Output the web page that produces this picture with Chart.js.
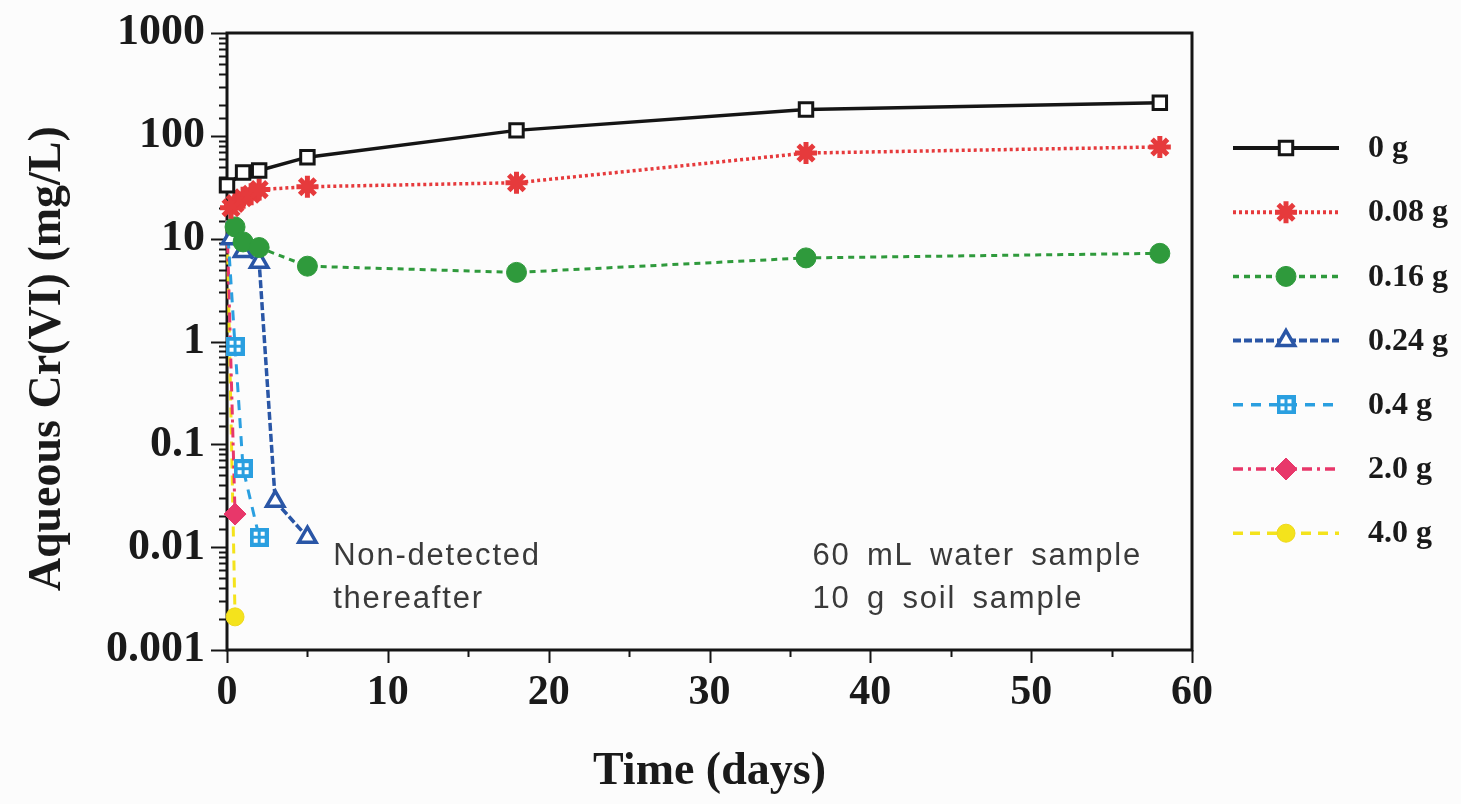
<!DOCTYPE html>
<html>
<head>
<meta charset="utf-8">
<script src="https://cdn.jsdelivr.net/npm/chart.js@4.4.1/dist/chart.umd.min.js"></script>
<style>
  html, body { margin: 0; padding: 0; background: #fcfcfc; }
  canvas { display: block; }
</style>
</head>
<body>
<canvas id="chart" width="1461" height="804"></canvas>
<script>
// values (days, mg/L)
const days0 = [0, 1, 2, 5, 18, 36, 58];
const cr0 = [33, 44, 46, 62, 113, 180, 210];

const days008 = [0.25, 0.5, 1, 1.5, 2, 5, 18, 36, 58];
const cr008 = [20, 22, 25, 27, 30, 32, 35, 68, 78];

const days016 = [0.5, 1, 2, 5, 18, 36, 58];
const cr016 = [13, 9.3, 8.2, 5.4, 4.7, 6.5, 7.2];

const days024 = [0.25, 1, 2, 3, 5];
const cr024 = [10, 7.5, 5.9, 0.028, 0.0125];

const days04 = [0, 0.5, 1, 2];
const cr04 = [15, 0.9, 0.058, 0.0125];

const days20 = [0, 0.5];
const cr20 = [15, 0.021];

const days40 = [0, 0.5];
const cr40 = [15, 0.0021];

const seriesLabels = ['0 g', '0.08 g', '0.16 g', '0.24 g', '0.4 g', '2.0 g', '4.0 g'];
const yTickLabels = ['0.001', '0.01', '0.1', '1', '10', '100', '1000'];
const xTickLabels = ['0', '10', '20', '30', '40', '50', '60'];
const noteLeft = ['Non-detected', 'thereafter'];
const noteRight = ['60 mL water sample', '10 g soil sample'];

const SERIF = '"Liberation Serif", "Times New Roman", serif';
const SANS = '"Liberation Sans", Arial, sans-serif';

function toPoints(xs, ys) {
  return xs.map((x, i) => ({ x, y: ys[i] }));
}

// light blue "grid square" marker
function gridSquare(color, size) {
  const c = document.createElement('canvas');
  c.width = size; c.height = size;
  const g = c.getContext('2d');
  g.fillStyle = color;
  g.fillRect(0, 0, size, size);
  g.fillStyle = '#ffffff';
  const s = Math.round(size * 0.22);
  const a = Math.round(size * 0.2), b = Math.round(size * 0.58);
  g.fillRect(a, a, s, s); g.fillRect(b, a, s, s);
  g.fillRect(a, b, s, s); g.fillRect(b, b, s, s);
  return c;
}
const gridMarker = gridSquare('#2a9fe0', 19);

const hideFirst = (r) => (ctx) => (ctx.dataIndex === 0 ? 0 : r);

const datasets = [
  { label: seriesLabels[0], data: toPoints(days0, cr0), borderColor: '#151515', backgroundColor: '#ffffff',
    borderWidth: 3.5, pointStyle: 'rect', pointRadius: 9.5, pointBorderWidth: 3, pointBorderColor: '#151515', borderDash: [] },
  { label: seriesLabels[1], data: toPoints(days008, cr008), borderColor: '#e63a3c', backgroundColor: '#e63a3c',
    borderWidth: 3.5, pointStyle: 'star', pointRadius: 11, pointBorderWidth: 5, pointBorderColor: '#e63a3c', borderDash: [3, 3] },
  { label: seriesLabels[2], data: toPoints(days016, cr016), borderColor: '#2f9a3c', backgroundColor: '#2f9a3c',
    borderWidth: 3, pointStyle: 'circle', pointRadius: 10, pointBorderWidth: 1, pointBorderColor: '#2f9a3c', borderDash: [6, 5] },
  { label: seriesLabels[3], data: toPoints(days024, cr024), borderColor: '#2a56a6', backgroundColor: '#ffffff',
    borderWidth: 3.5, pointStyle: 'triangle', pointRadius: 10, pointBorderWidth: 3.5, pointBorderColor: '#2a56a6', borderDash: [8, 3] },
  { label: seriesLabels[4], data: toPoints(days04, cr04), borderColor: '#2a9fe0', backgroundColor: '#2a9fe0',
    borderWidth: 3, pointStyle: gridMarker, pointRadius: hideFirst(9), pointBorderWidth: 0, borderDash: [10, 8] },
  { label: seriesLabels[5], data: toPoints(days20, cr20), borderColor: '#e8376a', backgroundColor: '#e8376a',
    borderWidth: 3, pointStyle: 'rectRot', pointRadius: hideFirst(11), pointBorderWidth: 1, pointBorderColor: '#e8376a', borderDash: [10, 5, 3, 5] },
  { label: seriesLabels[6], data: toPoints(days40, cr40), borderColor: '#f4e31c', backgroundColor: '#f4e31c',
    borderWidth: 3, pointStyle: 'circle', pointRadius: hideFirst(9), pointBorderWidth: 1, pointBorderColor: '#efd81a', borderDash: [10, 7] },
];
datasets.forEach((d) => { d.clip = false; d.tension = 0; d.fill = false; d.pointHoverRadius = d.pointRadius; });

function isDecade(v) {
  const e = Math.log10(v);
  return Math.abs(e - Math.round(e)) < 1e-6;
}

const framePlugin = {
  id: 'frame',
  beforeDatasetsDraw(chart) {
    const { ctx, chartArea: a, scales } = chart;
    ctx.save();
    ctx.strokeStyle = '#151515';
    ctx.lineWidth = 3;
    ctx.strokeRect(a.left, a.top, a.right - a.left, a.bottom - a.top);
    ctx.lineWidth = 2;
    ctx.beginPath();
    scales.y.ticks.forEach((t) => {
      const y = Math.round(scales.y.getPixelForValue(t.value)) + 0.5;
      const len = isDecade(t.value) ? 16 : 8;
      ctx.moveTo(a.left - len, y);
      ctx.lineTo(a.left, y);
    });
    scales.x.ticks.forEach((t) => {
      const x = Math.round(scales.x.getPixelForValue(t.value)) + 0.5;
      const len = t.value % 10 === 0 ? 13 : 7;
      ctx.moveTo(x, a.bottom);
      ctx.lineTo(x, a.bottom + len);
    });
    ctx.stroke();
    ctx.restore();
  },
  afterDraw(chart) {
    const { ctx, scales } = chart;
    ctx.save();
    // notes
    ctx.fillStyle = '#3a3a3a';
    ctx.font = '31px ' + SANS;
    ctx.textBaseline = 'middle';
    ctx.letterSpacing = '1.8px';
    const lineVals = [0.0082, 0.0031];
    noteLeft.forEach((s, i) => {
      ctx.fillText(s, scales.x.getPixelForValue(6.6), scales.y.getPixelForValue(lineVals[i]));
    });
    ctx.wordSpacing = '6px';
    noteRight.forEach((s, i) => {
      ctx.fillText(s, scales.x.getPixelForValue(36.4), scales.y.getPixelForValue(lineVals[i]));
    });
    ctx.letterSpacing = '0px';
    ctx.wordSpacing = '0px';

    // legend
    const x1 = 1233, x2 = 1339, xm = (x1 + x2) / 2, top = 148, gap = 64.2;
    chart.data.datasets.forEach((d, i) => {
      const y = top + i * gap;
      ctx.save();
      ctx.strokeStyle = d.borderColor;
      ctx.lineWidth = d.borderWidth + 0.5;
      ctx.setLineDash(d.borderDash || []);
      ctx.beginPath();
      ctx.moveTo(x1, y);
      ctx.lineTo(x2, y);
      ctx.stroke();
      ctx.setLineDash([]);
      const r = typeof d.pointRadius === 'function' ? d.pointRadius({ dataIndex: 1 }) : d.pointRadius;
      ctx.fillStyle = d.backgroundColor;
      ctx.strokeStyle = d.pointBorderColor || d.borderColor;
      ctx.lineWidth = d.pointBorderWidth;
      Chart.helpers.drawPoint(ctx, { pointStyle: d.pointStyle, radius: r, rotation: 0, borderWidth: d.pointBorderWidth }, xm, y);
      ctx.restore();
      ctx.fillStyle = '#1a1a1a';
      ctx.font = 'bold 32px ' + SERIF;
      ctx.textBaseline = 'middle';
      ctx.fillText(d.label, 1368, y + 1);
    });
    ctx.restore();
  },
};

new Chart(document.getElementById('chart'), {
  type: 'line',
  data: { datasets },
  plugins: [framePlugin],
  options: {
    responsive: false,
    animation: false,
    devicePixelRatio: 1,
    layout: { padding: { top: 33, right: 269, left: 0, bottom: 0 } },
    plugins: { legend: { display: false }, tooltip: { enabled: false } },
    scales: {
      x: {
        type: 'linear',
        min: 0,
        max: 60,
        afterFit: (scale) => {
          scale.height = 154;
          scale.paddingLeft = 0;
          scale.paddingRight = 0;
        },
        grid: { display: false, drawTicks: false },
        border: { display: false },
        ticks: {
          stepSize: 5,
          autoSkip: false,
          maxRotation: 0,
          padding: 18,
          color: '#1a1a1a',
          font: { family: SERIF, size: 42, weight: 'bold' },
          callback: (v) => (v % 10 === 0 ? xTickLabels[v / 10] : ''),
        },
        title: {
          display: true,
          text: 'Time (days)',
          color: '#1a1a1a',
          font: { family: SERIF, size: 46, weight: 'bold' },
          padding: { top: 0, bottom: 4 },
        },
      },
      y: {
        type: 'logarithmic',
        min: 0.001,
        max: 1000,
        afterFit: (scale) => {
          scale.width = 227;
          scale.paddingTop = 0;
          scale.paddingBottom = 0;
        },
        grid: { display: false, drawTicks: false },
        border: { display: false },
        ticks: {
          autoSkip: false,
          padding: 22,
          color: '#1a1a1a',
          font: { family: SERIF, size: 44, weight: 'bold' },
          callback: (v) => (isDecade(v) ? yTickLabels[Math.round(Math.log10(v)) + 3] : ''),
        },
        title: {
          display: true,
          // trailing spaces nudge the rotated title a little lower, as in the figure
          text: 'Aqueous Cr(VI) (mg/L)   ',
          color: '#1a1a1a',
          font: { family: SERIF, size: 46, weight: 'bold' },
          padding: { top: 21, bottom: 0 },
        },
      },
    },
  },
});
</script>
</body>
</html>
